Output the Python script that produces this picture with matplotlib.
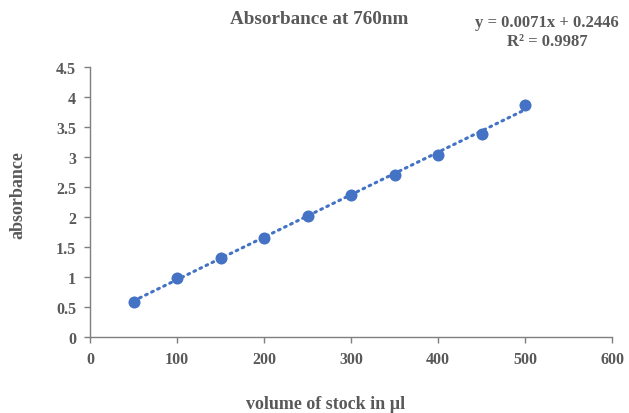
import numpy as np
import matplotlib.pyplot as plt

plt.rcParams['font.family'] = ['Liberation Serif', 'DejaVu Serif']
plt.rcParams['font.weight'] = 'bold'

volume = [50, 100, 150, 200, 250, 300, 350, 400, 450, 500]
absorbance = [0.59, 0.99, 1.32, 1.655, 2.02, 2.37, 2.705, 3.03, 3.39, 3.875]
x_ticks = [0, 100, 200, 300, 400, 500, 600]
y_ticks = [0, 0.5, 1, 1.5, 2, 2.5, 3, 3.5, 4, 4.5]
y_tick_labels = ['0', '0.5', '1', '1.5', '2', '2.5', '3', '3.5', '4', '4.5']

grey = '#595959'
blue = '#4472C4'

fig = plt.figure(figsize=(6.29, 4.14), dpi=100)
ax = fig.add_axes([90 / 629, 1 - 338 / 414, 522 / 629, 270 / 414])

# linear trendline
slope, intercept = np.polyfit(volume, absorbance, 1)
xs = np.array([min(volume), max(volume)])
ax.plot(xs, slope * xs + intercept, color=blue, lw=2.2, linestyle=(0, (0.6, 1.6)),
        dash_capstyle='round', zorder=2)
ax.scatter(volume, absorbance, s=75, color=blue, zorder=3, linewidths=0)

ax.set_xlim(0, 600)
ax.set_ylim(0, 4.5)
ax.set_xticks(x_ticks)
ax.set_yticks(y_ticks)
ax.set_yticklabels(y_tick_labels)

for s in ['top', 'right']:
    ax.spines[s].set_visible(False)
for s in ['left', 'bottom']:
    ax.spines[s].set_color('#7f7f7f')
    ax.spines[s].set_linewidth(1)
ax.tick_params(direction='out', length=4, width=1, color='#7f7f7f',
               labelcolor=grey, labelsize=11.5, pad=6)
for lab in ax.get_xticklabels() + ax.get_yticklabels():
    lab.set_fontweight('bold')

fig.text(319 / 629, 1 - 20 / 414, 'Absorbance at 760nm', ha='center', va='center',
         fontsize=13.8, color=grey, fontweight='bold')
fig.text(547 / 629, 1 - 23 / 414, 'y = 0.0071x + 0.2446', ha='center', va='center',
         fontsize=12, color=grey, fontweight='bold')
fig.text(547 / 629, 1 - 42 / 414, 'R² = 0.9987', ha='center', va='center',
         fontsize=12, color=grey, fontweight='bold')
fig.text(326 / 629, 1 - 405 / 414, 'volume of stock in µl', ha='center', va='center',
         fontsize=13, color=grey, fontweight='bold')
fig.text(18 / 629, 1 - 195 / 414, 'absorbance', ha='center', va='center', rotation=90,
         fontsize=13, color=grey, fontweight='bold')

fig.savefig('out.png', dpi=100)
